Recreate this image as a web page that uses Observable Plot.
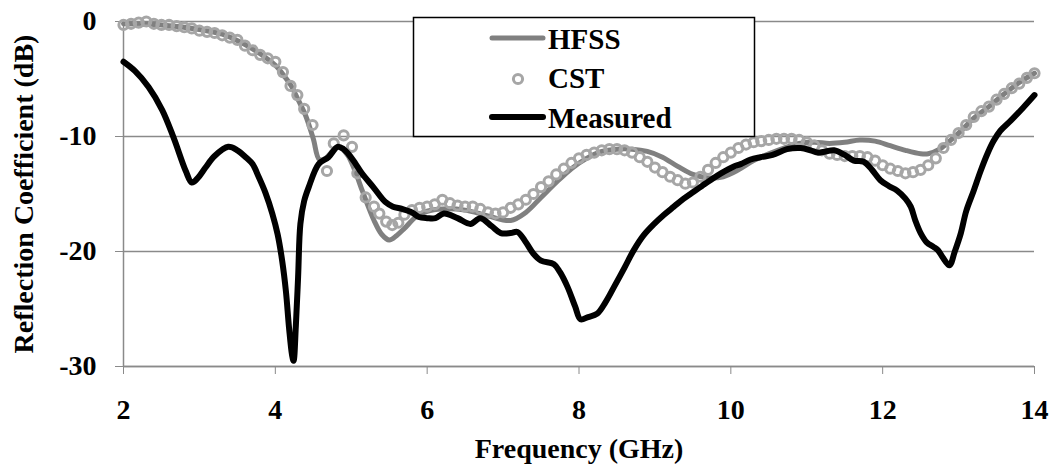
<!DOCTYPE html>
<html>
<head>
<meta charset="utf-8">
<script src="https://cdn.jsdelivr.net/npm/d3@7"></script>
<script src="https://cdn.jsdelivr.net/npm/@observablehq/plot@0.6"></script>
<style>
  html, body { margin: 0; padding: 0; background: #fff; }
  #wrap { position: relative; width: 1055px; height: 466px; }
  #wrap svg text { font-family: 'Liberation Serif', 'Times New Roman', serif; }
  #legend { position: absolute; left: 0; top: 0; pointer-events: none; }
</style>
</head>
<body>
<div id="wrap"></div>
<script>
// ---- Data ----
const xTicks = [2, 4, 6, 8, 10, 12, 14];
const yTicks = [-30, -20, -10, 0];
const seriesNames = ["HFSS", "CST", "Measured"];
const xTitle = "Frequency (GHz)";
const yTitle = "Reflection Coefficient (dB)";

const hfssFreq = [2.0, 2.5, 3.0, 3.3, 3.6, 3.8, 4.0, 4.1, 4.2, 4.3, 4.4, 4.5, 4.58, 4.66, 4.75, 4.83, 4.95, 5.05, 5.15, 5.3, 5.4, 5.5, 5.6, 5.7, 5.85, 6.0, 6.2, 6.5, 6.8, 7.1, 7.3, 7.5, 7.7, 7.9, 8.1, 8.3, 8.5, 8.7, 8.9, 9.1, 9.3, 9.5, 9.7, 9.9, 10.1, 10.3, 10.5, 10.7, 10.9, 11.1, 11.3, 11.5, 11.7, 11.9, 12.1, 12.3, 12.5, 12.6, 12.75, 12.9, 13.05, 13.2, 13.4, 13.6, 13.8, 14.0];
const hfssDb = [-0.2, -0.3, -0.7, -1.1, -2.0, -2.8, -3.8, -4.6, -5.5, -6.8, -8.2, -10.2, -12.0, -11.9, -11.3, -10.9, -11.6, -13.0, -14.8, -17.3, -18.5, -19.0, -18.6, -18.0, -17.0, -16.5, -16.3, -16.4, -16.9, -17.3, -16.6, -15.3, -14.0, -12.8, -11.9, -11.3, -11.1, -11.1, -11.3, -11.8, -12.6, -13.3, -13.6, -13.5, -12.9, -12.1, -11.5, -11.0, -10.6, -10.5, -10.6, -10.5, -10.3, -10.4, -10.8, -11.2, -11.5, -11.5, -11.1, -10.3, -9.4, -8.4, -7.4, -6.3, -5.3, -4.5];

const cstFreq = [2.0, 2.1, 2.2, 2.3, 2.4, 2.5, 2.6, 2.7, 2.8, 2.9, 3.0, 3.1, 3.2, 3.3, 3.4, 3.5, 3.6, 3.7, 3.8, 3.9, 4.0, 4.1, 4.2, 4.29, 4.38, 4.49, 4.68, 4.77, 4.9, 5.01, 5.08, 5.19, 5.3, 5.37, 5.46, 5.54, 5.62, 5.7, 5.8, 5.9, 6.0, 6.1, 6.2, 6.3, 6.4, 6.5, 6.6, 6.7, 6.8, 6.9, 7.0, 7.1, 7.2, 7.3, 7.4, 7.5, 7.6, 7.7, 7.8, 7.9, 8.0, 8.1, 8.2, 8.3, 8.4, 8.5, 8.6, 8.7, 8.8, 8.9, 9.0, 9.1, 9.2, 9.3, 9.4, 9.5, 9.6, 9.7, 9.8, 9.9, 10.0, 10.1, 10.2, 10.3, 10.4, 10.5, 10.6, 10.7, 10.8, 10.9, 11.0, 11.1, 11.2, 11.3, 11.4, 11.5, 11.6, 11.7, 11.8, 11.9, 12.0, 12.1, 12.2, 12.3, 12.4, 12.5, 12.6, 12.7, 12.8, 12.9, 13.0, 13.1, 13.2, 13.3, 13.4, 13.5, 13.6, 13.7, 13.8, 13.9, 14.0];
const cstDb = [-0.3, -0.2, -0.1, 0.0, -0.2, -0.3, -0.3, -0.4, -0.5, -0.6, -0.8, -0.9, -1.0, -1.2, -1.4, -1.6, -2.1, -2.5, -2.9, -3.2, -3.5, -4.4, -5.6, -6.4, -7.6, -9.0, -13.0, -10.6, -9.9, -10.9, -13.2, -15.3, -16.1, -16.7, -17.4, -17.7, -17.5, -16.8, -16.4, -16.2, -16.1, -15.9, -15.5, -15.8, -16.0, -16.1, -16.1, -16.3, -16.6, -16.7, -16.6, -16.2, -15.9, -15.5, -15.0, -14.4, -13.9, -13.3, -12.8, -12.3, -11.9, -11.6, -11.4, -11.2, -11.1, -11.1, -11.2, -11.4, -11.8, -12.2, -12.7, -13.1, -13.5, -13.8, -14.1, -14.0, -13.5, -12.9, -12.3, -11.8, -11.4, -11.0, -10.7, -10.5, -10.4, -10.3, -10.2, -10.2, -10.2, -10.3, -10.5, -10.8, -11.2, -11.5, -11.6, -11.7, -11.7, -11.7, -11.8, -12.1, -12.5, -12.8, -13.0, -13.2, -13.1, -12.9, -12.5, -11.9, -11.0, -10.3, -9.7, -9.0, -8.3, -7.8, -7.4, -6.8, -6.3, -5.8, -5.4, -4.9, -4.5];

const measFreq = [2.0, 2.15, 2.33, 2.51, 2.66, 2.82, 2.9, 2.98, 3.08, 3.2, 3.38, 3.5, 3.61, 3.7, 3.78, 3.87, 3.96, 4.03, 4.09, 4.14, 4.18, 4.22, 4.24, 4.27, 4.30, 4.33, 4.38, 4.44, 4.57, 4.70, 4.82, 4.9, 4.96, 5.05, 5.14, 5.29, 5.45, 5.55, 5.67, 5.8, 5.89, 6.0, 6.11, 6.22, 6.4, 6.57, 6.7, 6.85, 6.97, 7.1, 7.19, 7.3, 7.40, 7.5, 7.67, 7.75, 7.85, 7.95, 8.02, 8.12, 8.24, 8.35, 8.46, 8.6, 8.72, 8.85, 8.99, 9.12, 9.25, 9.38, 9.51, 9.62, 9.73, 9.87, 10.04, 10.13, 10.26, 10.39, 10.55, 10.74, 10.92, 11.05, 11.14, 11.25, 11.36, 11.5, 11.62, 11.75, 11.86, 11.97, 12.08, 12.19, 12.3, 12.37, 12.43, 12.50, 12.58, 12.67, 12.73, 12.79, 12.88, 12.95, 13.03, 13.1, 13.20, 13.29, 13.38, 13.46, 13.55, 13.69, 13.85, 14.0];
const measDb = [-3.5, -4.3, -5.7, -7.7, -10.1, -13.0, -14.0, -13.6, -12.7, -11.7, -10.9, -11.2, -11.8, -12.4, -13.5, -14.9, -16.7, -18.5, -20.8, -23.5, -26.6, -29.0, -29.5, -26.5, -22.2, -17.6, -15.6, -14.4, -12.4, -11.8, -10.9, -11.1, -11.5, -12.3, -13.2, -14.4, -15.7, -16.1, -16.3, -16.6, -17.0, -17.1, -17.1, -16.7, -17.1, -17.6, -17.1, -17.8, -18.4, -18.4, -18.3, -19.2, -20.2, -20.8, -21.1, -21.8, -23.1, -24.8, -25.9, -25.7, -25.4, -24.4, -23.1, -21.4, -19.9, -18.6, -17.6, -16.8, -16.1, -15.4, -14.8, -14.3, -13.8, -13.2, -12.6, -12.4, -12.0, -11.8, -11.6, -11.1, -11.0, -11.2, -11.4, -11.3, -11.2, -11.6, -12.1, -12.2, -12.9, -13.8, -14.3, -14.7, -15.4, -16.1, -17.3, -18.4, -19.2, -19.6, -19.9, -20.5, -21.2, -20.0, -18.4, -16.5, -14.7, -13.0, -11.5, -10.4, -9.5, -8.6, -7.5, -6.4];

// ---- Build tables ----
const hfss = hfssFreq.map((f, i) => ({f, db: hfssDb[i]}));
const cst = cstFreq.map((f, i) => ({f, db: cstDb[i]}));
const meas = measFreq.map((f, i) => ({f, db: measDb[i]}));

const FONT = "Liberation Serif";
const AXIS_GRAY = "#8a8a8a";
const HFSS_COLOR = "#808080";
const CST_COLOR = "#a6a6a6";
const MEAS_COLOR = "#000000";
const txt = {fontFamily: FONT, fontWeight: "bold", fill: "#000"};

const chart = Plot.plot({
  width: 1055,
  height: 466,
  marginLeft: 123,
  marginRight: 21,
  marginTop: 21,
  marginBottom: 100,
  x: {domain: [2, 14]},
  y: {domain: [-30, 0]},
  style: {fontFamily: FONT, fontWeight: "bold", background: "#fff", color: "#000"},
  marks: [
    Plot.gridY(yTicks, {stroke: AXIS_GRAY, strokeOpacity: 1, strokeWidth: 1.3}),
    Plot.ruleX([2], {stroke: AXIS_GRAY, strokeWidth: 1.5}),
    Plot.ruleY([-30], {stroke: AXIS_GRAY, strokeWidth: 1.5}),
    Plot.axisY(yTicks, {...txt, tickSize: 8, tickPadding: 19, stroke: AXIS_GRAY, fontSize: 28, label: null, tickFormat: d => String(d)}),
    Plot.axisX(xTicks, {...txt, tickSize: 8, tickPadding: 25, stroke: AXIS_GRAY, fontSize: 28, label: null, tickFormat: d => String(d)}),
    Plot.text([xTitle], {...txt, frameAnchor: "bottom", textAnchor: "middle", lineAnchor: "bottom", dy: 91, fontSize: 28}),
    Plot.text([yTitle], {...txt, frameAnchor: "left", textAnchor: "middle", rotate: -90, lineAnchor: "bottom", dx: -91, fontSize: 28}),
    Plot.line(hfss, {x: "f", y: "db", stroke: HFSS_COLOR, strokeWidth: 5, curve: "catmull-rom"}),
    Plot.dot(cst, {x: "f", y: "db", r: 4.6, stroke: CST_COLOR, strokeWidth: 3, fill: "none"}),
    Plot.line(meas, {x: "f", y: "db", stroke: MEAS_COLOR, strokeWidth: 6, curve: "catmull-rom"})
  ]
});

const wrap = document.getElementById("wrap");
wrap.appendChild(chart);

// ---- Legend overlay ----
const lg = d3.create("svg").attr("id", "legend").attr("width", 1055).attr("height", 466);
lg.append("rect").attr("x", 413.5).attr("y", 17.5).attr("width", 341).attr("height", 119)
  .attr("fill", "#fff").attr("stroke", "#000").attr("stroke-width", 1.5);
const rows = [
  {name: seriesNames[0], type: "line", color: HFSS_COLOR, w: 5, cy: 38, base: 49},
  {name: seriesNames[1], type: "dot", color: CST_COLOR, w: 3, cy: 79, base: 88},
  {name: seriesNames[2], type: "line", color: MEAS_COLOR, w: 6, cy: 117, base: 128}
];
for (const r of rows) {
  if (r.type === "line") {
    lg.append("line").attr("x1", 492).attr("x2", 543).attr("y1", r.cy).attr("y2", r.cy)
      .attr("stroke", r.color).attr("stroke-width", r.w).attr("stroke-linecap", "round");
  } else {
    lg.append("circle").attr("cx", 518).attr("cy", r.cy).attr("r", 4.6)
      .attr("fill", "none").attr("stroke", r.color).attr("stroke-width", r.w);
  }
  lg.append("text").attr("x", 548).attr("y", r.base).text(r.name)
    .attr("font-family", FONT).attr("font-weight", "bold").attr("font-size", 29).attr("fill", "#000");
}
wrap.appendChild(lg.node());
</script>
</body>
</html>
